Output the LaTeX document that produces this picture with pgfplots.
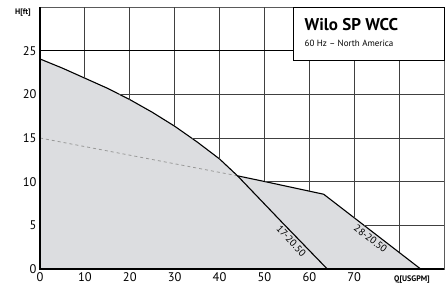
\documentclass[border=0pt]{standalone}
\usepackage{fontspec}
\setmainfont{PT Sans}
\usepackage{pgfplots}
\pgfplotsset{compat=1.18}
\definecolor{fillg}{RGB}{220,221,224}
\definecolor{gridg}{RGB}{90,90,90}
\pgfplotstableread{
q h
0 24.05
5 23.0
10 21.85
15 20.7
20 19.4
25 17.95
30 16.35
35 14.55
40 12.6
44 10.67
50.2 10.0
63.2 8.56
84.8 0
}\envelope
\begin{document}
\begin{tikzpicture}
\useasboundingbox (-40pt,-18pt) rectangle (406pt,269pt);
\begin{axis}[
  at={(0pt,0pt)}, anchor=south west,
  scale only axis, width=404pt, height=262pt,
  xmin=0, xmax=90, ymin=0, ymax=30,
  xtick={0,10,20,30,40,50,60,70,80,90}, ytick={0,5,10,15,20,25,30},
  xticklabels={0,10,20,30,40,50,60,70,,},
  yticklabels={0,5,10,15,20,25,},
  major tick length=0pt,
  axis line style={gridg, line width=0.9pt},
  tick label style={font=\fontsize{12.5}{14}\selectfont},
  /pgf/number format/assume math mode=true,
  clip=false,
]
% envelope fill
\addplot[fill=fillg, draw=none] table[x=q, y=h] {\envelope} \closedcycle;
% dashed
\addplot[gray!80, dashed, line width=0.8pt] coordinates {(0,15) (44,10.67)};
% 17-20.50
\addplot[black, line width=1.1pt] coordinates {
 (0,24.05) (5,23.0) (10,21.85) (15,20.7) (20,19.4) (25,17.95) (30,16.35)
 (35,14.55) (40,12.6) (44,10.67) (54,5.3) (64,0)};
% 28-20.50
\addplot[black, line width=1.1pt] coordinates {
 (44,10.67) (50.2,10.0) (63.2,8.56) (84.8,0)};
% grid above the envelope
\draw[black!75, line width=0.9pt] (axis cs:10,21.85) -- (axis cs:10,30);
\draw[black!75, line width=0.9pt] (axis cs:20,19.4) -- (axis cs:20,30);
\draw[black!75, line width=0.9pt] (axis cs:30,16.35) -- (axis cs:30,30);
\draw[black!75, line width=0.9pt] (axis cs:40,12.6) -- (axis cs:40,30);
\draw[black!75, line width=0.9pt] (axis cs:50,10.02) -- (axis cs:50,30);
\draw[black!75, line width=0.9pt] (axis cs:60,8.91) -- (axis cs:60,30);
\draw[black!75, line width=0.9pt] (axis cs:70,5.87) -- (axis cs:70,30);
\draw[black!75, line width=0.9pt] (axis cs:80,1.9) -- (axis cs:80,30);
\draw[black!75, line width=0.9pt] (axis cs:72.18,5) -- (axis cs:90,5);
\draw[black!75, line width=0.9pt] (axis cs:50.2,10) -- (axis cs:90,10);
\draw[black!75, line width=0.9pt] (axis cs:33.75,15) -- (axis cs:90,15);
\draw[black!75, line width=0.9pt] (axis cs:17.7,20) -- (axis cs:90,20);
% axes lines
\draw[black, line width=1.4pt] (axis cs:0,30) -- (axis cs:0,0) -- (axis cs:90,0);
\draw[black, line width=0.9pt] (axis cs:0,25) -- (axis cs:90,25);
% title box
\draw[black, line width=0.9pt, fill=white] (axis cs:56.4,23.93) rectangle (axis cs:90,30);
\node[rotate=-47, anchor=north, inner sep=2.5pt, font=\fontsize{10}{11}\selectfont] at (axis cs:57,3.71) {17-20.50};
\node[rotate=-37.5, anchor=north, inner sep=2.5pt, font=\fontsize{10}{11}\selectfont] at (axis cs:74.5,4.05) {28-20.50};
\end{axis}
\node[anchor=west, font=\bfseries\fontsize{17}{19}\selectfont, inner sep=0] at (264.5pt,244pt) {Wilo SP WCC};
\node[anchor=west, font=\fontsize{9}{10}\selectfont, inner sep=0] at (264.5pt,225.3pt) {60 Hz – North America};
\node[font=\bfseries\fontsize{8}{9}\selectfont] at (-17pt,256pt) {H[ft]};
\node[font=\bfseries\fontsize{8}{9}\selectfont] at (372pt,-11pt) {Q[USGPM]};
\end{tikzpicture}
\end{document}
